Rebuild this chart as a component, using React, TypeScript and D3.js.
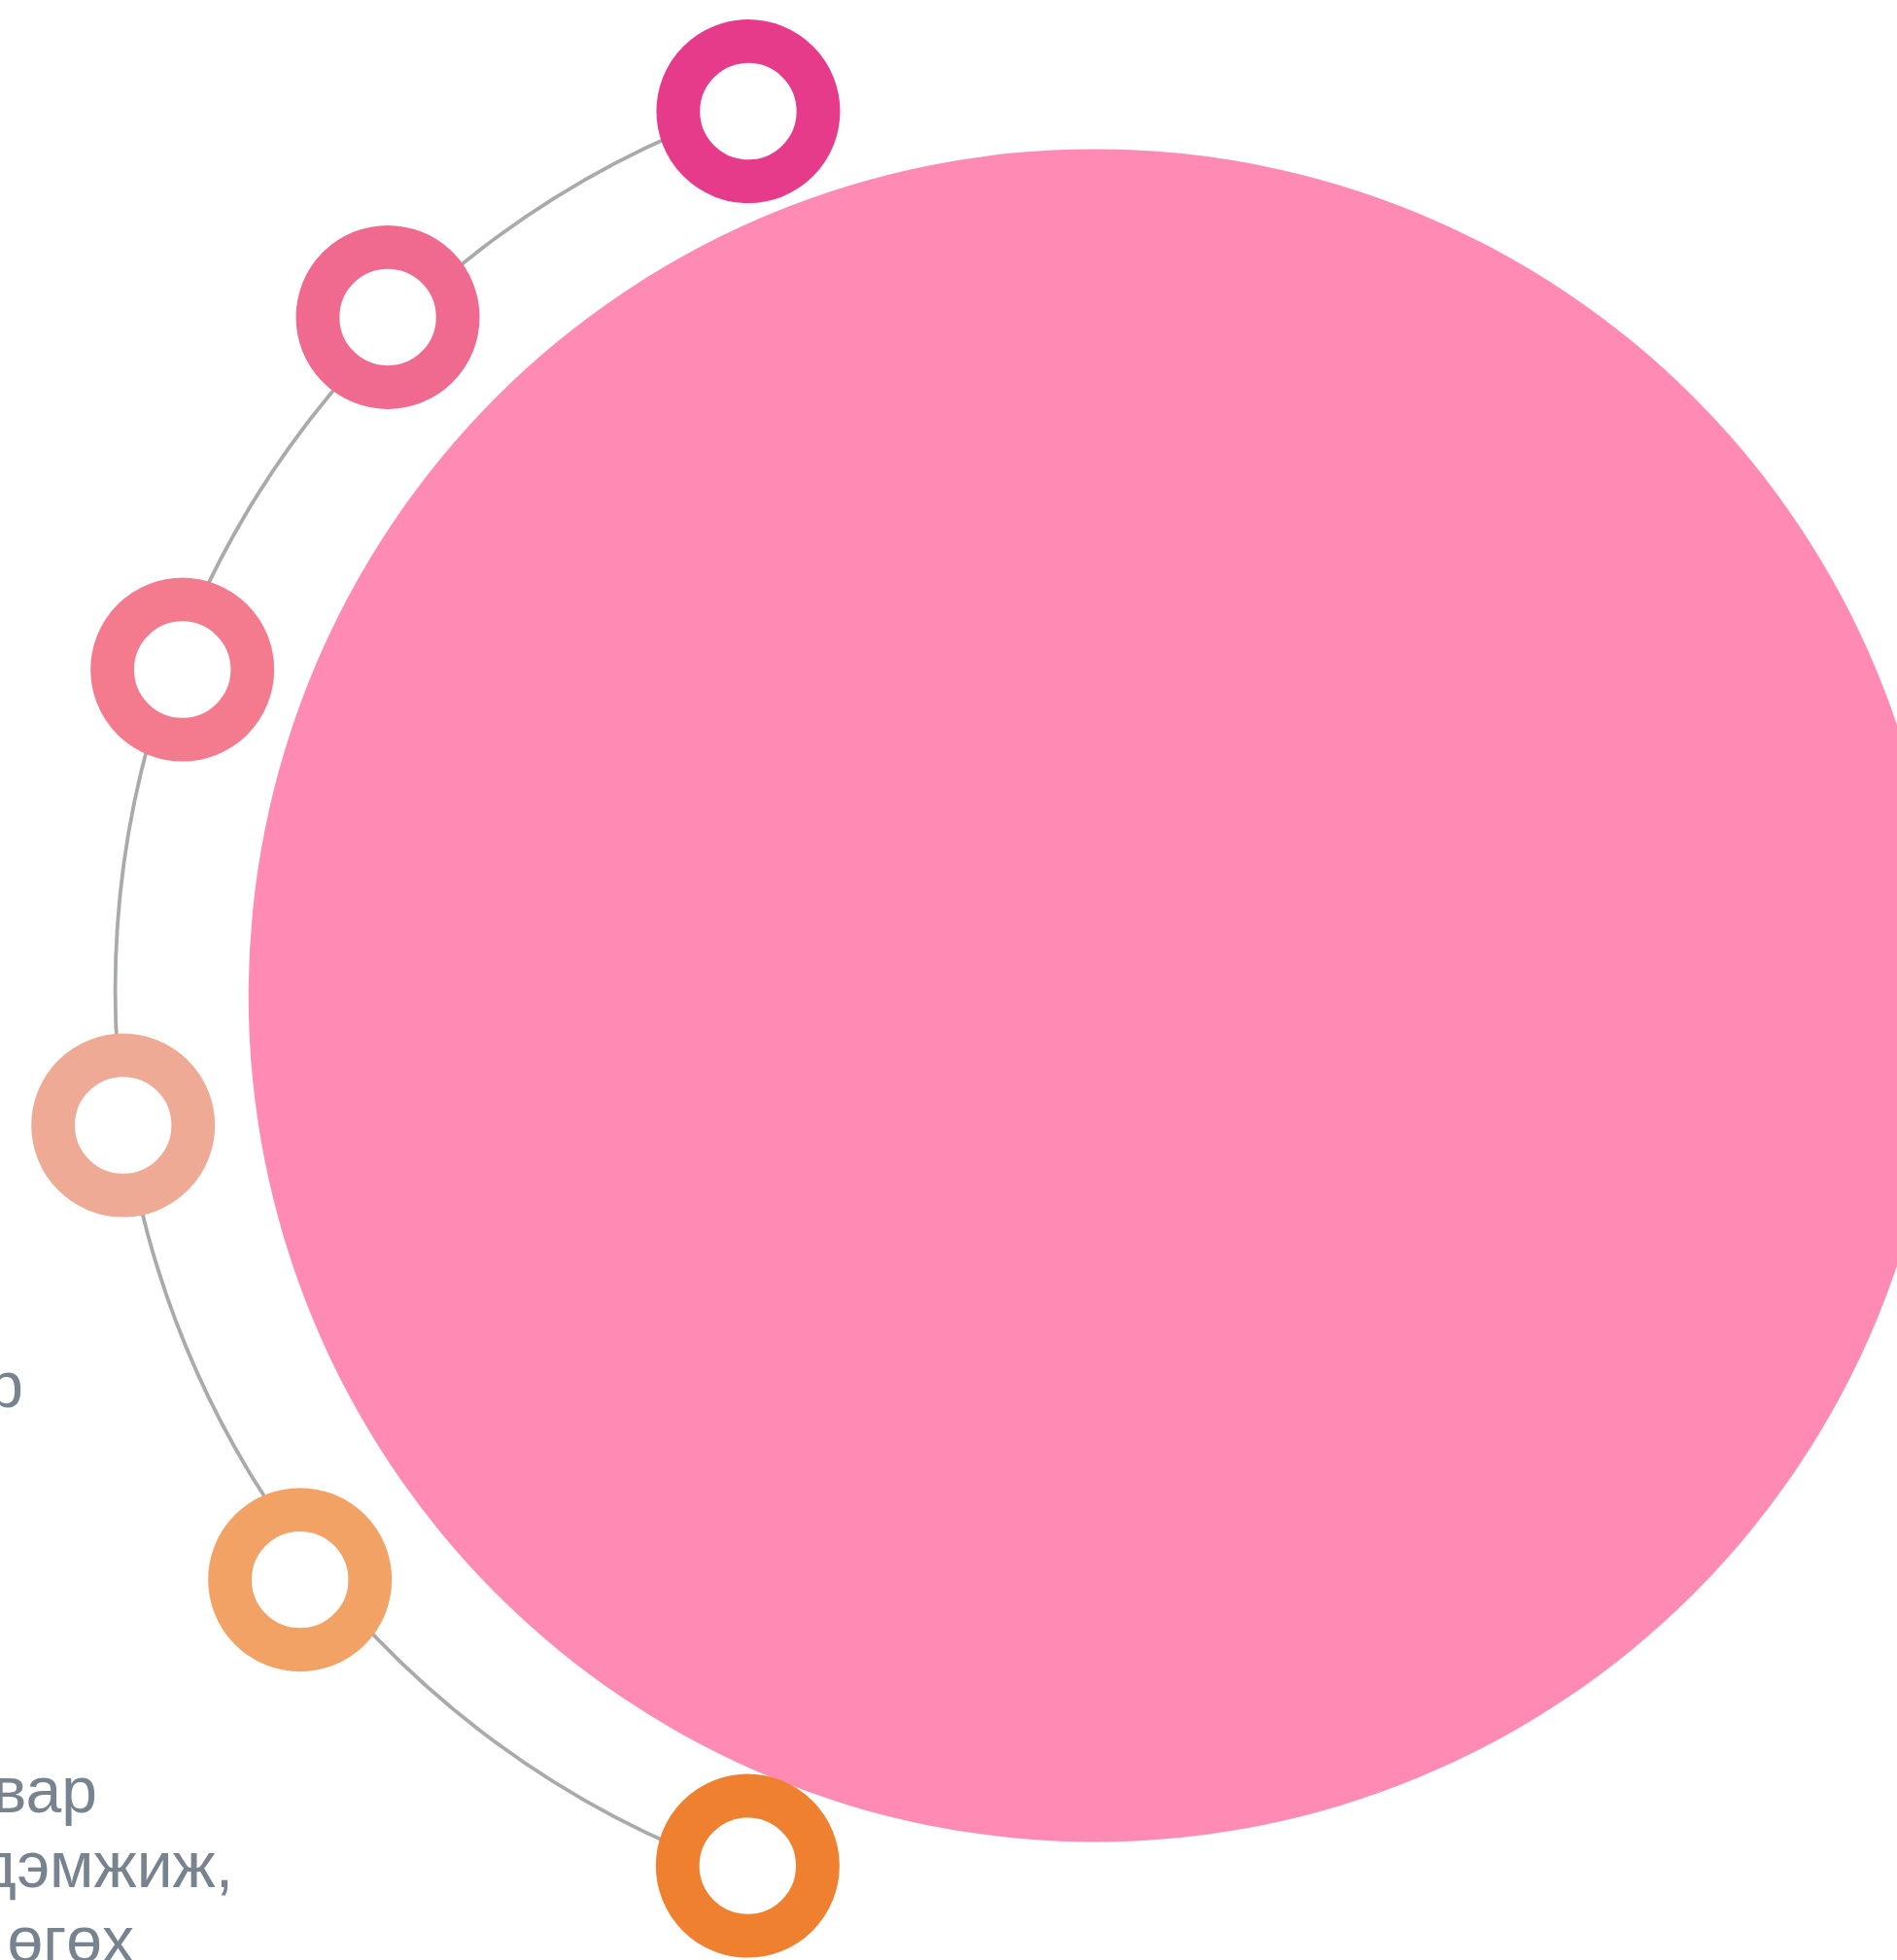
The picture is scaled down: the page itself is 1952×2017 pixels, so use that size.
import React from "react"
import * as d3 from "d3"

// ring markers along the arc (angle measured from the left, + is downward)
const ringAngles = [-71.1, -45.5, -20.3, 8.3, 38.2, 71.0]
const ringDistances = [956, 971, 951, 963, 981, 953]
const ringColors = ["#E63A8B", "#F0698E", "#F47A8E", "#EEAA95", "#F3A266", "#EE8030"]

// label fragments that are visible at the left edge
const labelLines = ["р", "вар", "дэмжиж,", "өгөх"]
const labelRightEdges = [24, 100, 240, 138]
const labelBaselines = [1448, 1865, 1942, 2019]

const W = 1952
const H = 2017

const App: React.FC = () => {
  const arcCenter = { x: 1079.6, y: 1019 }
  const arcRadius = 961
  const bubble = { x: 1126.7, y: 1024.4, r: 871 }

  const toRad = d3.scaleLinear().domain([0, 360]).range([0, 2 * Math.PI])
  const canvasAngle = (a: number) => toRad(180 - a)

  const first = d3.min(ringAngles) || 0
  const last = d3.max(ringAngles) || 0
  const p = d3.path()
  p.arc(arcCenter.x, arcCenter.y, arcRadius, canvasAngle(last), canvasAngle(first), false)

  const rings = ringAngles.map((a, i) => {
    const t = canvasAngle(a)
    return {
      x: arcCenter.x + ringDistances[i] * Math.cos(t),
      y: arcCenter.y + ringDistances[i] * Math.sin(t),
      color: ringColors[i],
    }
  })

  const outerR = 94.5
  const innerR = 49.7

  return (
    <svg
      width={W}
      height={H}
      style={{ position: "absolute", left: 0, top: 0, display: "block" }}
    >
      <rect width={W} height={H} fill="#ffffff" />
      <circle cx={bubble.x} cy={bubble.y} r={bubble.r} fill="#FF8AB4" />
      <path d={p.toString()} fill="none" stroke="#A8ABA9" strokeWidth={3.8} />
      {rings.map((d, i) => (
        <circle
          key={i}
          cx={d.x}
          cy={d.y}
          r={(outerR + innerR) / 2}
          fill="#ffffff"
          stroke={d.color}
          strokeWidth={outerR - innerR}
        />
      ))}
      {labelLines.map((t, i) => (
        <text
          key={i}
          x={labelRightEdges[i]}
          y={labelBaselines[i]}
          textAnchor="end"
          fontFamily="'Liberation Sans', Arial, Helvetica, sans-serif"
          fontSize={66}
          fill="#77838F"
        >
          {t}
        </text>
      ))}
    </svg>
  )
}

export default App
